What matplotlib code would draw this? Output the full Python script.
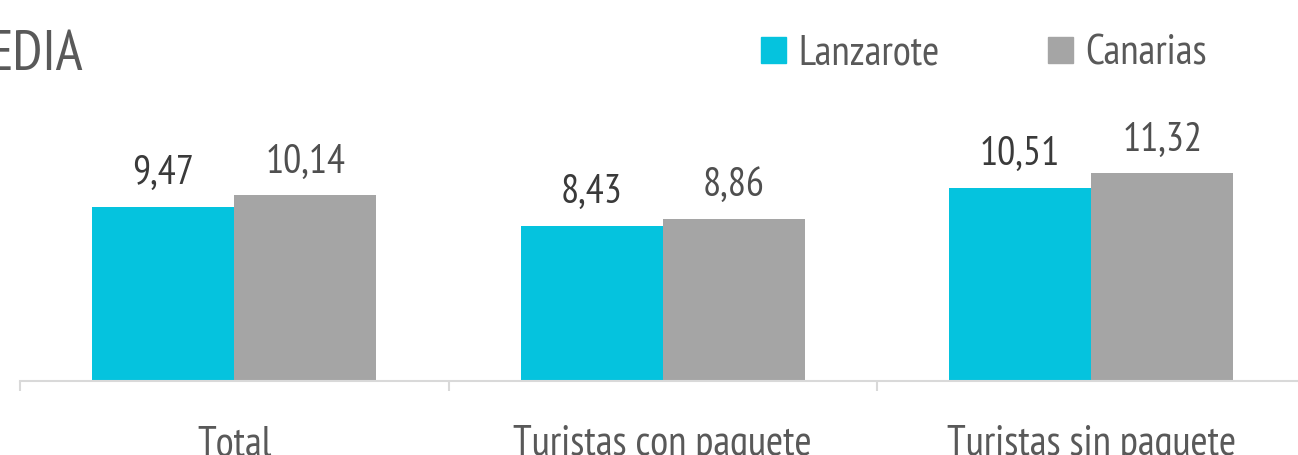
import matplotlib
matplotlib.use('Agg')
import matplotlib.pyplot as plt
import matplotlib.font_manager as fm
from matplotlib.patches import Patch

categories = ['Total', 'Turistas con paquete', 'Turistas sin paquete']
lanzarote = [9.47, 8.43, 10.51]
canarias = [10.14, 8.86, 11.32]
lanzarote_labels = ['9,47', '8,43', '10,51']
canarias_labels = ['10,14', '8,86', '11,32']

CYAN = '#05c3de'
GREY = '#a5a5a5'
TXT = '#595959'

# pick a narrow font if one is around
names = {f.name for f in fm.fontManager.ttflist}
FONT = 'DejaVu Sans'
for cand in ['PT Sans Narrow', 'Liberation Sans Narrow', 'Roboto Condensed', 'Open Sans Condensed', 'Arial Narrow']:
    if cand in names:
        FONT = cand
        break
plt.rcParams['font.family'] = [FONT, 'DejaVu Sans']
plt.rcParams['font.stretch'] = 'condensed'

W, H = 1298, 455
fig = plt.figure(figsize=(W / 100, H / 100), dpi=100)
ax = fig.add_axes([20 / W, 74 / H, 1285.5 / W, 275 / H])

w = 142 / 428.5
xs = list(range(len(categories)))
b1 = ax.bar([x - w / 2 for x in xs], lanzarote, w, color=CYAN, label='Lanzarote')
b2 = ax.bar([x + w / 2 for x in xs], canarias, w, color=GREY, label='Canarias')

for rect, lab in zip(b1, lanzarote_labels):
    ax.annotate(lab, (rect.get_x() + rect.get_width() / 2, rect.get_height()),
                xytext=(0, 17), textcoords='offset points', ha='center', va='baseline',
                fontsize=29, color='#3a3a3a')
for rect, lab in zip(b2, canarias_labels):
    ax.annotate(lab, (rect.get_x() + rect.get_width() / 2, rect.get_height()),
                xytext=(0, 16), textcoords='offset points', ha='center', va='baseline',
                fontsize=29, color='#4f4f4f')

ax.set_xlim(-0.5, 2.5)
ax.set_ylim(0, 15)
for s in ['top', 'right', 'left']:
    ax.spines[s].set_visible(False)
ax.spines['bottom'].set_color('#d9d9d9')
ax.spines['bottom'].set_linewidth(1.5)
ax.set_yticks([])
ax.set_xticks([-0.5, 0.5, 1.5, 2.5])
ax.set_xticklabels([])
ax.tick_params(axis='x', which='major', length=7, width=1.5, color='#d9d9d9')
ax.set_xticks(xs, minor=True)
ax.set_xticklabels(categories, minor=True, fontsize=30, color=TXT)
ax.tick_params(axis='x', which='minor', length=0, pad=32)

fig.text(83 / W, (H - 70) / H, 'EDIA', ha='right', va='baseline', fontsize=41, color=TXT)

handles = [Patch(color=CYAN, label='Lanzarote'), Patch(color=GREY, label='Canarias')]
fig.legend(handles=handles, loc='center left', bbox_to_anchor=(761 / W, 1 - 54 / H), ncol=2,
           frameon=False, fontsize=30, handlelength=0.6, handleheight=0.6,
           handletextpad=0.3, columnspacing=2.6, borderpad=0, borderaxespad=0,
           labelcolor=TXT)

fig.savefig('out.png', dpi=100)
